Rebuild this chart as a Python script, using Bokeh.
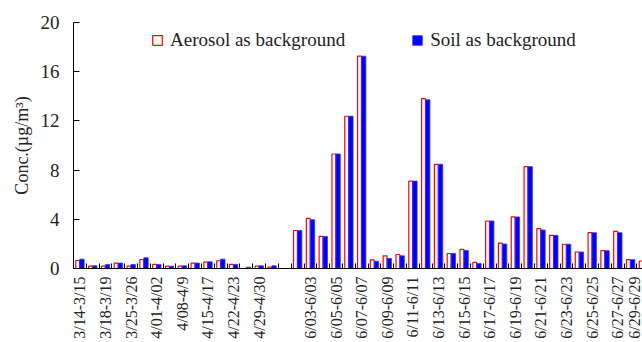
import math
from bokeh.plotting import figure
from bokeh.models import ColumnDataSource, Range1d, FixedTicker
from bokeh.transform import dodge
from bokeh.embed import file_html
from bokeh.resources import INLINE

nan = float("nan")

periods = ["3/14-3/15", "", "3/18-3/19", "", "3/25-3/26", "", "4/01-4/02", "",
           "4/08-4/9", "", "4/15-4/17", "", "4/22-4/23", "", "4/29-4/30", "",
           "", "", "6/03-6/03", "", "6/05-6/05", "", "6/07-6/07", "",
           "6/09-6/09", "", "6/11-6/11", "", "6/13-6/13", "", "6/15-6/15", "",
           "6/17-6/17", "", "6/19-6/19", "", "6/21-6/21", "", "6/23-6/23", "",
           "6/25-6/25", "", "6/27-6/27", "", "6/29-6/29"]

aerosol = [0.65, 0.19, 0.19, 0.44, 0.19, 0.73, 0.33, 0.19, 0.19, 0.44, 0.52, 0.63,
           0.33, 0.0, 0.19, 0.11, nan, 3.09, 4.07, 2.61, 9.31, 12.38, 17.26, 0.70,
           1.03, 1.14, 7.11, 13.81, 8.47, 1.22, 1.55, 0.49, 3.86, 2.07, 4.19, 8.28,
           3.24, 2.70, 1.97, 1.34, 2.91, 1.45, 3.02, 0.72, 0.61]

soil = [0.76, 0.22, 0.33, 0.44, 0.33, 0.87, 0.33, 0.19, 0.22, 0.44, 0.54, 0.76,
        0.33, 0.11, 0.22, 0.22, nan, 3.09, 3.96, 2.61, 9.31, 12.38, 17.26, 0.59,
        0.81, 1.03, 7.11, 13.71, 8.47, 1.22, 1.47, 0.40, 3.86, 1.99, 4.19, 8.28,
        3.13, 2.70, 1.97, 1.34, 2.91, 1.45, 2.91, 0.72, 0.60]

y_ticks = [0, 4, 8, 12, 16, 20]

X_END = 43.93
idx = list(range(len(periods)))
src = ColumnDataSource(dict(x=idx, aerosol=aerosol, soil=soil))

FONT = "Liberation Serif"

p = figure(width=642, height=342, output_backend="svg", toolbar_location=None,
           x_range=Range1d(-0.5, X_END), y_range=Range1d(0, 20),
           min_border_left=73, min_border_top=22, min_border_right=0,
           min_border_bottom=74)
p.outline_line_color = None
p.grid.visible = False
p.background_fill_color = "white"

p.vbar(x=dodge("x", -0.17), top="aerosol", width=0.30, source=src,
       fill_color="white", line_color="#ff0000", line_width=1.2,
       legend_label="Aerosol as background")
p.vbar(x=dodge("x", 0.16), top="soil", width=0.34, source=src,
       fill_color="#0000ff", line_color="#3030ff", line_width=0.8,
       legend_label="Soil as background")

# x axis: minor ticks at slot boundaries, labels on every other slot
lab_pos = [min(i, X_END) for i, t in enumerate(periods) if t]
overrides = {}
for i, t in enumerate(periods):
    if t:
        overrides[min(i, X_END)] = t
xa = p.xaxis[0]
xa.ticker = FixedTicker(ticks=lab_pos, minor_ticks=[i - 0.5 for i in range(len(periods) + 1)])
xa.major_label_overrides = overrides
xa.minor_tick_in = 5
xa.minor_tick_out = 0
xa.minor_tick_line_color = "black"
xa.major_tick_in = 0
xa.major_tick_out = 0
xa.axis_line_color = "black"
xa.major_label_orientation = math.pi / 2
xa.major_label_standoff = 8
xa.major_label_text_font = FONT
xa.major_label_text_font_size = "16px"
xa.major_label_text_color = "#222222"

ya = p.yaxis[0]
ya.ticker = FixedTicker(ticks=y_ticks, minor_ticks=[])
ya.major_tick_in = 6
ya.major_tick_out = 0
ya.axis_line_color = "black"
ya.major_label_text_font = FONT
ya.major_label_text_font_size = "19px"
ya.major_label_text_color = "#222222"
ya.major_label_standoff = 14
ya.axis_label = "Conc.(µg/m³)"
ya.axis_label_text_font = FONT
ya.axis_label_text_font_size = "18px"
ya.axis_label_text_font_style = "normal"
ya.axis_label_text_color = "#222222"
ya.axis_label_standoff = 6

lg = p.legend[0]
lg.orientation = "horizontal"
lg.location = (78, 217)
lg.border_line_color = None
lg.background_fill_alpha = 0
lg.padding = 0
lg.margin = 0
lg.spacing = 66
lg.glyph_width = 12
lg.glyph_height = 12
lg.label_standoff = 7
lg.label_text_font = FONT
lg.label_text_font_size = "19px"
lg.label_text_color = "#222222"

open("out.html", "w").write(file_html(p, INLINE))
